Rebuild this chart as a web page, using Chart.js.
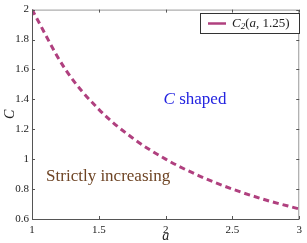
<!DOCTYPE html>
<html><head><meta charset="utf-8">
<script src="https://cdn.jsdelivr.net/npm/chart.js@4/dist/chart.umd.min.js"></script>
<style>html,body{margin:0;padding:0;background:#fff}#w{width:307px;height:243px}</style>
</head><body><div id="w"><canvas id="c"></canvas></div>
<script>
const aValues = [1, 1.25, 1.5, 1.75, 2, 2.25, 2.5, 2.75, 3];
const cValues = [2.0, 1.6, 1.333, 1.143, 1.0, 0.889, 0.8, 0.727, 0.667];
const xTicks = [1, 1.5, 2, 2.5, 3];
const yTicks = [0.6, 0.8, 1, 1.2, 1.4, 1.6, 1.8, 2];
const seriesLabel = 'C₂(a, 1.25)';
const regionLabels = [
  {parts:[['C','italic'],[' shaped','normal']], a:2.22, c:1.40, color:'#2323e0'},
  {parts:[['Strictly increasing','normal']], a:1.57, c:0.885, color:'#6e4424'}
];
const SERIF = "'Liberation Serif', 'DejaVu Serif', serif";
const lineColor = '#b0407f';

const deco = {
  id:'deco',
  afterDraw(chart){
    const ctx = chart.ctx, x = chart.scales.x, y = chart.scales.y, ca = chart.chartArea;
    ctx.save();
    ctx.strokeStyle = '#555'; ctx.lineWidth = 1;
    ctx.beginPath();
    ctx.moveTo(ca.left+0.5, ca.top); ctx.lineTo(ca.left+0.5, ca.bottom+0.5); ctx.lineTo(ca.right, ca.bottom+0.5);
    ctx.stroke();
    ctx.strokeStyle = '#999';
    ctx.beginPath();
    ctx.moveTo(ca.left, ca.top+0.5); ctx.lineTo(ca.right-0.5, ca.top+0.5); ctx.lineTo(ca.right-0.5, ca.bottom);
    ctx.stroke();
    ctx.strokeStyle = '#555';
    ctx.beginPath();
    xTicks.forEach(v=>{const px=Math.round(x.getPixelForValue(v))+0.5;
      ctx.moveTo(px,ca.bottom); ctx.lineTo(px,ca.bottom-3);
      ctx.moveTo(px,ca.top); ctx.lineTo(px,ca.top+3);});
    yTicks.forEach(v=>{const py=Math.round(y.getPixelForValue(v))+0.5;
      ctx.moveTo(ca.left,py); ctx.lineTo(ca.left+3,py);
      ctx.moveTo(ca.right,py); ctx.lineTo(ca.right-3,py);});
    ctx.stroke();
    regionLabels.forEach(l=>{
      let total=0;
      l.parts.forEach(p=>{ctx.font=p[1]+' 17px '+SERIF; total+=ctx.measureText(p[0]).width;});
      let px = x.getPixelForValue(l.a)-total/2, py = y.getPixelForValue(l.c);
      ctx.fillStyle = l.color; ctx.textBaseline='middle';
      l.parts.forEach(p=>{ctx.font=p[1]+' 17px '+SERIF; ctx.fillText(p[0],px,py); px+=ctx.measureText(p[0]).width;});
    });
    const bx=200, by=13, bw=99, bh=20;
    ctx.fillStyle='#fff'; ctx.fillRect(bx,by,bw,bh);
    ctx.strokeStyle='#333'; ctx.lineWidth=1; ctx.strokeRect(bx+0.5,by+0.5,bw,bh);
    ctx.strokeStyle=lineColor; ctx.lineWidth=2.5;
    ctx.beginPath(); ctx.moveTo(208,by+bh/2+0.5); ctx.lineTo(226,by+bh/2+0.5); ctx.stroke();
    ctx.fillStyle='#222'; ctx.textBaseline='middle';
    let tx=232; const ty=by+bh/2+1;
    const segs=[['C','italic 13px'],['2','italic 9px',3],['(','normal 13px'],['a','italic 13px'],[', 1.25)','normal 13px']];
    segs.forEach(s=>{ctx.font=s[1]+' '+SERIF; ctx.fillText(s[0],tx,ty+(s[2]||0)); tx+=ctx.measureText(s[0]).width;});
    ctx.restore();
  }
};

new Chart(document.getElementById('c'), {
  type:'line',
  data:{datasets:[{label:seriesLabel, data:aValues.map((a,i)=>({x:a,y:cValues[i]})),
    borderColor:lineColor, borderWidth:3, borderDash:[6,4], pointRadius:0, cubicInterpolationMode:'monotone', fill:false}]},
  options:{
    responsive:true, maintainAspectRatio:false, animation:false,
    layout:{padding:{top:5,right:4,left:0,bottom:0}},
    plugins:{legend:{display:false}, tooltip:{enabled:false}},
    scales:{
      x:{type:'linear', min:1, max:3, afterBuildTicks:s=>{s.ticks=xTicks.map(v=>({value:v}));},
        grid:{display:false, drawTicks:false, tickLength:0}, border:{display:false},
        ticks:{font:{family:SERIF,size:11}, color:'#222', padding:5, maxRotation:0, callback:v=>String(v)},
        title:{display:true, text:'a', font:{family:SERIF,size:14,style:'italic'}, color:'#222', padding:{top:0,bottom:-2}},
        afterFit:s=>{s.height=24;}},
      y:{min:0.6, max:2, afterBuildTicks:s=>{s.ticks=yTicks.map(v=>({value:v}));},
        grid:{display:false, drawTicks:false, tickLength:0}, border:{display:false},
        ticks:{font:{family:SERIF,size:11}, color:'#222', padding:3, callback:v=>String(v)},
        title:{display:true, text:'C', font:{family:SERIF,size:14,style:'italic'}, color:'#222', padding:{top:2,bottom:0}},
        afterFit:s=>{s.width=32;}}
    }
  },
  plugins:[deco]
});
</script></body></html>
